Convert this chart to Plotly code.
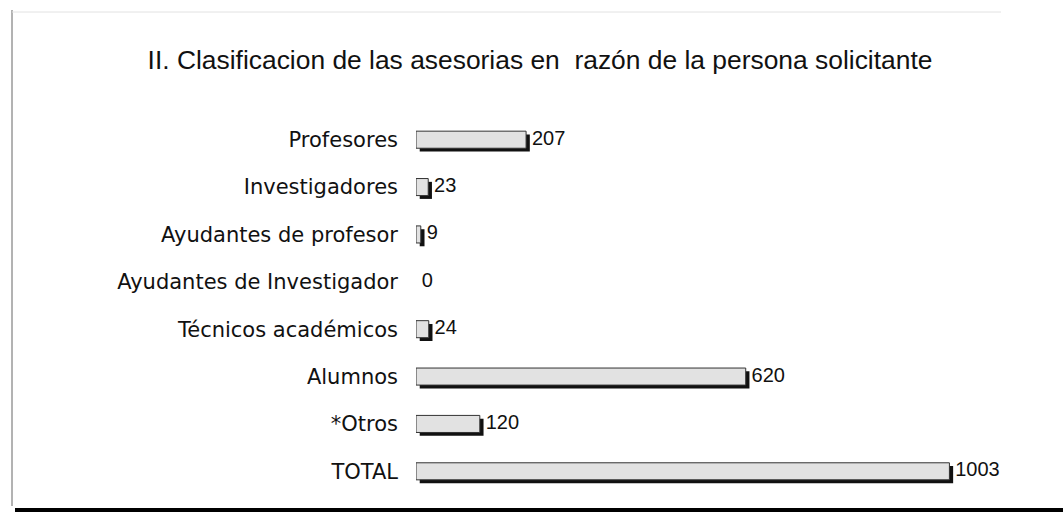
import plotly.graph_objects as go

categories = ["Profesores", "Investigadores", "Ayudantes de profesor",
              "Ayudantes de Investigador", "Técnicos académicos", "Alumnos",
              "*Otros", "TOTAL"]
values = [207, 23, 9, 0, 24, 620, 120, 1003]
value_labels = ["207", "23", "9", "0", "24", "620", "120", "1003"]

title_text = "II. Clasificacion de las asesorias en  razón de la persona solicitante"

SHADOW_DX = 7      # data units
BAR_W = 0.36

W, H = 1063, 513
ML, MR, MT, MB = 416, 62, 116, 18
PW, PH = W - ML - MR, H - MT - MB

fig = go.Figure()

# shadow bars
fig.add_trace(go.Bar(
    y=categories, x=values, base=[SHADOW_DX if v > 0 else 0 for v in values],
    orientation="h", width=BAR_W, offset=-BAR_W / 2 + 0.07,
    marker=dict(color=["#111111" if v > 0 else "rgba(0,0,0,0)" for v in values],
                line=dict(width=0)),
    hoverinfo="skip", showlegend=False))

# main bars
fig.add_trace(go.Bar(
    y=categories, x=values, orientation="h", width=BAR_W, offset=-BAR_W / 2,
    marker=dict(color="#e2e2e2",
                line=dict(color=["#333333" if v > 0 else "rgba(0,0,0,0)" for v in values],
                          width=1)),
    hoverinfo="skip", showlegend=False))

# value labels
fig.add_trace(go.Scatter(
    y=categories, x=[v + SHADOW_DX + 4 for v in values], mode="text",
    text=value_labels, textposition="middle right",
    textfont=dict(family="Liberation Sans, Arial", size=20, color="#111111"),
    hoverinfo="skip", showlegend=False))

fig.update_layout(
    width=W, height=H,
    margin=dict(l=ML, r=MR, t=MT, b=MB),
    paper_bgcolor="white", plot_bgcolor="white",
    barmode="overlay",
    title=dict(text=title_text, x=0.508, xref="container", xanchor="center",
               y=1 - 60 / H, yref="container", yanchor="middle",
               font=dict(family="Liberation Sans, Arial", size=26.4, color="#111111")),
    xaxis=dict(range=[0, 1100], visible=False),
    yaxis=dict(range=[7.5, -0.5], type="category", showgrid=False,
               showline=False, zeroline=False, ticks="", ticklabelstandoff=17,
               tickfont=dict(family="DejaVu Sans, Liberation Sans", size=21, color="#111111")),
    shapes=[
        dict(type="line", xref="paper", yref="paper", x0=-(ML - 15) / PW, x1=1 + MR / PW,
             y0=-(510 - (H - MB)) / PH, y1=-(510 - (H - MB)) / PH,
             line=dict(color="black", width=4)),
        dict(type="line", xref="paper", yref="paper", x0=-(ML - 12) / PW, x1=-(ML - 12) / PW,
             y0=-(506 - (H - MB)) / PH, y1=1 + (MT - 10) / PH,
             line=dict(color="#666666", width=1)),
        dict(type="line", xref="paper", yref="paper", x0=-(ML - 12) / PW, x1=1,
             y0=1 + (MT - 12) / PH, y1=1 + (MT - 12) / PH,
             line=dict(color="#e2e2e2", width=1)),
    ],
)

fig.write_html("out.html", config={"displayModeBar": False},
               post_script="document.body.style.margin='0';document.body.style.overflow='hidden';")
